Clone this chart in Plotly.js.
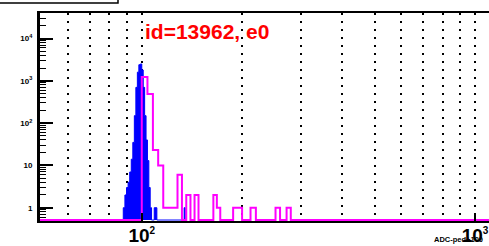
<!DOCTYPE html>
<html>
<head>
<meta charset="utf-8">
<script src="https://cdn.plot.ly/plotly-3.0.1.min.js"></script>
<style>
html,body{margin:0;padding:0;background:#fff;overflow:hidden;}
#chart{width:500px;height:246px;}
</style>
</head>
<body>
<div id="chart"></div>
<script>
// ---- data ----
// blue filled histogram: bins of width 1 ADC, lower edges and counts
const blueLow    = [88,89,90,91,92,93,94,95,96,97,98,99,100,101,102,103,104,105,106,107,108,109,110,111,134];
const blueCounts = [1, 2, 3, 4, 7, 14,35,150,700,1600,2400,2500,1800,700,150,40,13,3,1,0,0,1,1,0,1];
const blueWidth  = 1;
// magenta outline histogram: bins of width 4 ADC
const magLow    = [100,104,108,112,116,120,124,128,132,136,140,144,148,152,156,160,164,168,172,176,180,184,188,192,196,200,204,208,212,216,220,224,228,232,236,240,244,248,252,256,260,264,268,272,276,280];
const magCounts = [1230,490,23,10,1,1,1,6,0,2,0,2,0,0,0,0,2,1,0,0,0,0,1,1,1,0,0,0,1,1,0,0,0,0,0,0,0,0,1,1,0,0,0,1,1,0];
const magWidth  = 4;
// axis ticks
const xMajorVals = [100, 1000];
const xMajorText = ['10<sup><span style="font-size:10px">2</span></sup>', '10<sup><span style="font-size:10px">3</span></sup>'];
const xGridMinor = [60,70,80,90,200,300,400,500,600,700,800,900];
const yMajorVals = [1, 10, 100, 1000, 10000];
const yMajorText = ['1', '10', '10<sup>2</sup>', '10<sup>3</sup>', '10<sup>4</sup>'];
const titleText = 'id=13962, e0';
const xTitleText = 'ADC-ped+100';

// ---- helpers ----
const xRange = [1.6946, 3.075];
const yRange = [-0.314, 4.603];
const yFloor = Math.pow(10, -0.291); // empty bins drawn on the frame bottom

function steps(lows, counts, w) {
  const xs = [], ys = [];
  for (let i = 0; i < lows.length; i++) {
    const lo = lows[i], hi = lo + w;
    const v = counts[i] > 0 ? counts[i] : yFloor;
    if (i === 0 || Math.abs(lows[i-1] + w - lo) > 1e-9) {
      if (i > 0) { xs.push(lows[i-1] + w); ys.push(yFloor); }
      xs.push(lo); ys.push(yFloor);
    }
    xs.push(lo); ys.push(v);
    xs.push(hi); ys.push(v);
  }
  xs.push(lows[lows.length-1] + w); ys.push(yFloor);
  return {xs, ys};
}

const b = steps(blueLow, blueCounts, blueWidth);
const m = steps(magLow, magCounts, magWidth);
const xMin = Math.pow(10, xRange[0]), xMax = Math.pow(10, xRange[1]);
m.xs.unshift(xMin); m.ys.unshift(yFloor);
m.xs.push(xMax); m.ys.push(yFloor);

const yMinor = [];
for (let k = -1; k <= 4; k++) for (let d = 2; d <= 9; d++) {
  const v = d * Math.pow(10, k);
  if (v > Math.pow(10, yRange[0]) && v < Math.pow(10, yRange[1])) yMinor.push(v);
}

const traces = [
  {x: b.xs, y: b.ys, type: 'scatter', mode: 'lines', fill: 'toself',
   fillcolor: '#0000ff', line: {color: '#0000ff', width: 1}, hoverinfo: 'skip'},
  {x: m.xs, y: m.ys, type: 'scatter', mode: 'lines',
   line: {color: '#ff00ff', width: 2}, hoverinfo: 'skip'}
];

const F = 'Liberation Sans, Arial, Helvetica, sans-serif';
const layout = {
  width: 500, height: 246,
  margin: {l: 40, r: 0, t: 13, b: 25, pad: 0},
  paper_bgcolor: '#fff', plot_bgcolor: '#fff',
  showlegend: false,
  xaxis: {
    type: 'log', range: xRange,
    showline: true, linecolor: '#000', linewidth: 2, mirror: true,
    zeroline: false,
    tickmode: 'array', tickvals: xMajorVals, ticktext: xMajorText,
    ticks: 'inside', ticklen: 8, tickwidth: 2, tickcolor: '#000',
    ticklabelstandoff: -4,
    tickfont: {family: F, size: 19, color: '#000', weight: 'bold'},
    showgrid: true, gridcolor: '#000', gridwidth: 2, griddash: '2px,6px',
    minor: {tickmode: 'array', tickvals: xGridMinor, ticks: '', showgrid: true,
            gridcolor: '#000', gridwidth: 2, griddash: '2px,6px'}
  },
  yaxis: {
    type: 'log', range: yRange,
    showline: true, linecolor: '#000', linewidth: 3,
    zeroline: false, showgrid: false,
    tickmode: 'array', tickvals: yMajorVals, ticktext: yMajorText,
    ticks: 'inside', ticklen: 13, tickwidth: 2, tickcolor: '#000',
    ticklabelstandoff: 3,
    tickfont: {family: F, size: 8, color: '#000', weight: 'bold'},
    minor: {tickmode: 'array', tickvals: yMinor, ticks: 'inside', ticklen: 6,
            tickwidth: 1, tickcolor: '#000', showgrid: false}
  },
  annotations: [
    {text: titleText, xref: 'paper', yref: 'paper', x: (142.7 - 40) / 460, y: 1,
     xanchor: 'left', yanchor: 'top', yshift: -5, showarrow: false,
     font: {family: F, size: 21, color: '#ff0000', weight: 'bold'}},
    {text: xTitleText, xref: 'paper', yref: 'paper', x: (432 - 40) / 460, y: 0,
     xanchor: 'left', yanchor: 'top', yshift: -12, showarrow: false,
     font: {family: F, size: 7.5, color: '#000', weight: 'bold'}}
  ],
  shapes: [
    {type: 'rect', xref: 'paper', yref: 'paper', x0: -0.2, x1: (118 - 40) / 460,
     y0: 1 + 10 / 208, y1: 1.3, line: {color: '#000', width: 1.5}, layer: 'above'}
  ]
};

Plotly.newPlot('chart', traces, layout, {staticPlot: true, displayModeBar: false});
</script>
</body>
</html>
